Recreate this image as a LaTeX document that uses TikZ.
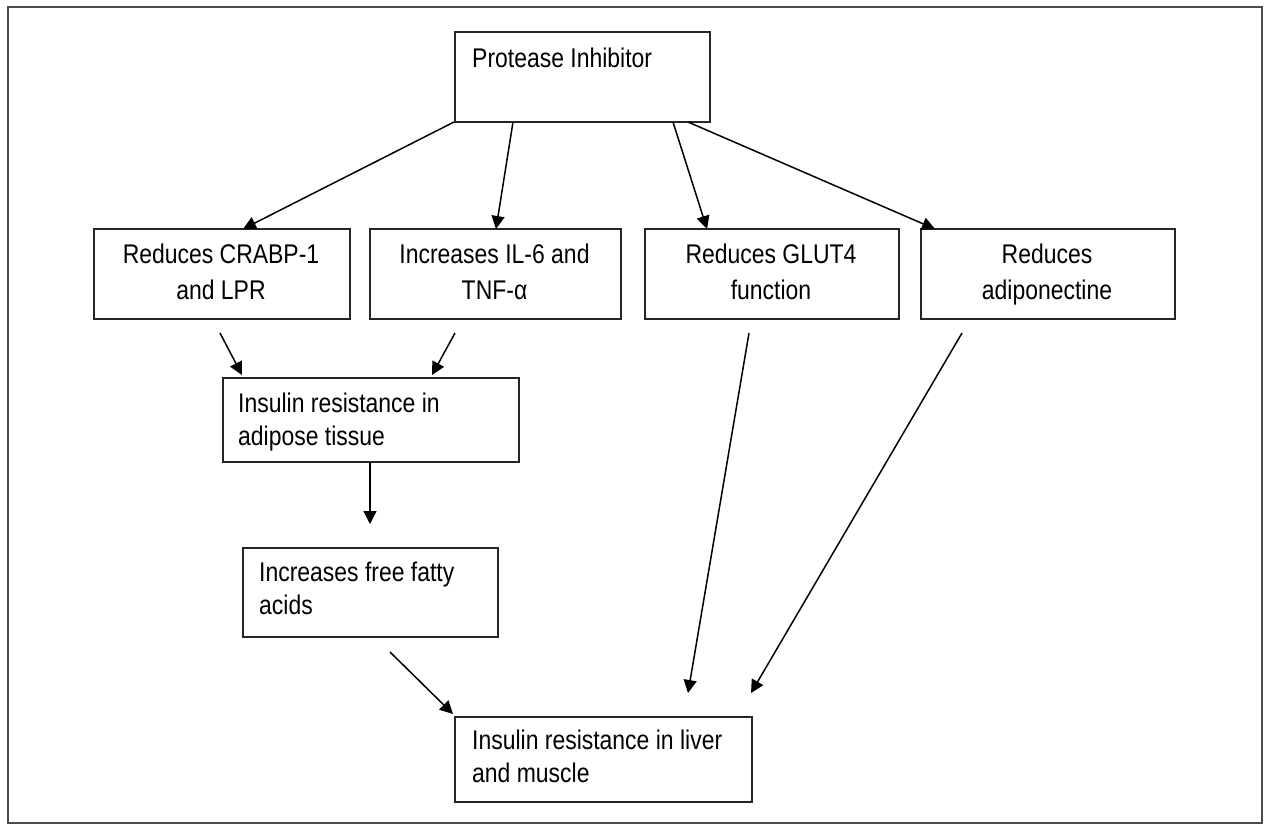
\documentclass[tikz,border=0pt]{standalone}
\usepackage{fontspec}
\setmainfont{Liberation Sans}[FakeStretch=0.85]
\usetikzlibrary{arrows.meta}
\newcommand\twoleft[2]{\vtop{\baselineskip=33pt\hbox{#1}\hbox{#2}}}
\newcommand\twocenter[2]{\vtop{\baselineskip=36pt\halign{\hfil##\hfil\cr #1\cr #2\cr}}}
\tikzset{
  box/.style={draw=black!85, line width=1.5pt, rectangle, inner sep=0pt, anchor=north west},
  txt/.style={inner sep=0pt, font=\fontsize{27}{33}\selectfont, text=black},
  arr/.style={draw=black, line width=1.5pt, -{Triangle[length=13pt,width=13pt]}},
  frame/.style={draw=black!70, line width=2pt}
}
\begin{document}
\begin{tikzpicture}[x=1pt,y=-1pt]
\useasboundingbox (0,0) rectangle (1264,825);
\fill[white] (0,0) rectangle (1264,825);
\draw[frame] (8,7) rectangle (1262,823);

% boxes
\node[box, minimum width=255pt, minimum height=90pt] (pi) at (454,31) {};
\node[box, minimum width=256pt, minimum height=90pt] (crabp) at (93,228) {};
\node[box, minimum width=251pt, minimum height=90pt] (il6) at (369,228) {};
\node[box, minimum width=254pt, minimum height=90pt] (glut) at (644,228) {};
\node[box, minimum width=254pt, minimum height=90pt] (adipo) at (920,228) {};
\node[box, minimum width=296pt, minimum height=84pt] (adip) at (222,377) {};
\node[box, minimum width=255pt, minimum height=89pt] (ffa) at (242,547) {};
\node[box, minimum width=297pt, minimum height=85pt] (liver) at (454,716) {};

% texts
\node[txt, anchor=base west] (tpi) at (472,67) {Protease Inhibitor};
\node[txt, anchor=base] (tcrabp) at (221,263) {\twocenter{Reduces CRABP-1}{and LPR}};
\node[txt, anchor=base] (til6) at (494.5,263) {\twocenter{Increases IL-6 and}{TNF-α}};
\node[txt, anchor=base] (tglut) at (771,263) {\twocenter{Reduces GLUT4}{function}};
\node[txt, anchor=base] (tadipo) at (1047,263) {\twocenter{Reduces}{adiponectine}};
\node[txt, anchor=base west] (tadip) at (238,412) {\twoleft{Insulin resistance in}{adipose tissue}};
\node[txt, anchor=base west] (tffa) at (259,581) {\twoleft{Increases free fatty}{acids}};
\node[txt, anchor=base west] (tliver) at (472,749) {\twoleft{Insulin resistance in liver}{and muscle}};

% connector end points
\coordinate (s1) at (454,122); \coordinate (e1) at (243,229);
\coordinate (s2) at (513,122); \coordinate (e2) at (496,229);
\coordinate (s3) at (673,122); \coordinate (e3) at (707,229);
\coordinate (s4) at (688,122); \coordinate (e4) at (935,229);
\coordinate (s5) at (220,333); \coordinate (e5) at (242,375);
\coordinate (s6) at (455,333); \coordinate (e6) at (432,375);
\coordinate (s7) at (370,462); \coordinate (e7) at (370,524);
\coordinate (s8) at (390,652); \coordinate (e8) at (453,714);
\coordinate (s9) at (749,333); \coordinate (e9) at (688,693);
\coordinate (s10) at (962,333); \coordinate (e10) at (751,693);

\draw[arr] (s1) -- (e1);
\draw[arr] (s2) -- (e2);
\draw[arr] (s3) -- (e3);
\draw[arr] (s4) -- (e4);
\draw[arr] (s5) -- (e5);
\draw[arr] (s6) -- (e6);
\draw[arr] (s7) -- (e7);
\draw[arr] (s8) -- (e8);
\draw[arr] (s9) -- (e9);
\draw[arr] (s10) -- (e10);
\end{tikzpicture}
\end{document}
